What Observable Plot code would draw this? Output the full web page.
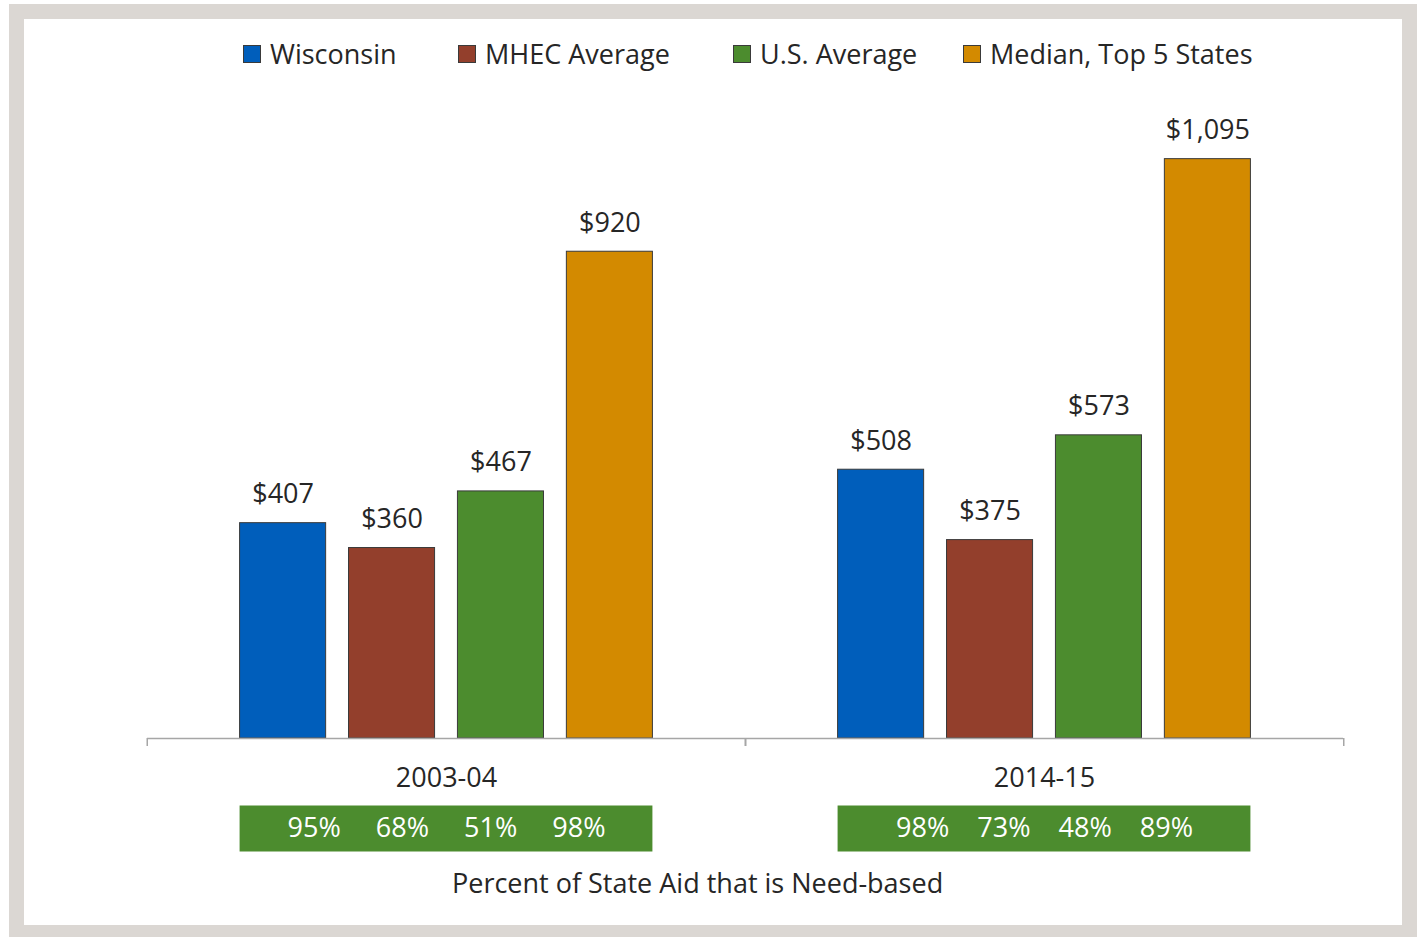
<!DOCTYPE html>
<html>
<head>
<meta charset="utf-8">
<script src="https://cdn.jsdelivr.net/npm/d3@7"></script>
<script src="https://cdn.jsdelivr.net/npm/@observablehq/plot@0.6"></script>
<style>
  html, body { margin: 0; padding: 0; background: #ffffff; }
  body { width: 1425px; height: 937px; position: relative; overflow: hidden; font-family: "Open Sans", sans-serif; color: #262626; }
  #frame { position: absolute; left: 9px; top: 4px; width: 1408px; height: 933px; background: #dbd7d3; }
  #inner { position: absolute; left: 24px; top: 19px; width: 1378px; height: 906px; background: #ffffff; }
  #legend { position: relative; height: 66px; font-size: 27px; }
  .item { position: absolute; top: 16px; height: 38px; line-height: 38px; display: flex; align-items: center; white-space: nowrap; }
  .sw { width: 16px; height: 16px; border: 1px solid #3a3a3a; margin-right: 9px; }
  #chart svg { display: block; }
  #caption { height: 63px; line-height: 42px; font-size: 27px; padding-left: 428px; white-space: nowrap; }
</style>
</head>
<body>
<div id="frame"></div>
<div id="inner">
  <div id="legend"></div>
  <div id="chart"></div>
  <div id="caption">Percent of State Aid that is Need-based</div>
</div>
<script>
// ---- data ----
const years = ["2003-04", "2014-15"];
const series = ["Wisconsin", "MHEC Average", "U.S. Average", "Median, Top 5 States"];
const aid2003 = [407, 360, 467, 920];
const aid2014 = [508, 375, 573, 1095];
const needBased2003 = [95, 68, 51, 98];
const needBased2014 = [98, 73, 48, 89];
const colors = ["#005ebb", "#933f2c", "#4c8c2e", "#d38a00"];

const aidByYear = {"2003-04": aid2003, "2014-15": aid2014};
const needByYear = {"2003-04": needBased2003, "2014-15": needBased2014};
const data = years.flatMap(y => series.map((s, i) => ({year: y, series: s, value: aidByYear[y][i]})));

// ---- legend ----
const legendLeft = [219, 434, 709, 939];
const legend = document.getElementById("legend");
series.forEach((s, i) => {
  const it = document.createElement("div");
  it.className = "item";
  it.style.left = legendLeft[i] + "px";
  const sw = document.createElement("span");
  sw.className = "sw";
  sw.style.background = colors[i];
  const tx = document.createElement("span");
  tx.textContent = s;
  it.append(sw, tx);
  legend.append(it);
});

// ---- chart ----
const W = 1378, H = 777, mL = 122, mR = 59, mT = 71, mB = 124;
const facetW = (W - mL - mR) / years.length;
const sep = {"2003-04": "\u00A0\u00A0\u00A0\u00A0\u00A0", "2014-15": "\u00A0\u00A0\u00A0\u00A0"};
const axisColor = "#a6a6a6";

const marks = [
  Plot.barY(data, {fx: "year", x: "series", y: "value", fill: "series", stroke: "#3a3a3a", strokeWidth: 1}),
  Plot.ruleY([0], {stroke: axisColor, strokeWidth: 1.5}),
  Plot.text(data, {fx: "year", x: "series", y: "value", text: d => "$" + d3.format(",")(d.value),
    lineAnchor: "bottom", dy: -20, fill: "#262626"}),
  Plot.text(years, {fx: d => d, frameAnchor: "bottom", lineAnchor: "middle", dy: 40, text: d => d, fill: "#262626"}),
  Plot.ruleY(years, {fx: d => d, y: () => 0, x1: () => series[0], x2: () => series[series.length - 1],
    dy: 90, stroke: colors[2], strokeWidth: 46}),
  Plot.text(years, {fx: d => d, frameAnchor: "bottom", lineAnchor: "middle", dy: 90,
    text: d => needByYear[d].map(v => v + "%").join(sep[d]), fill: "#ffffff"})
];
if (Plot.axisFx) {
  marks.push(Plot.axisFx({anchor: "bottom", tickSize: 8, tickFormat: () => "", label: null, dx: -facetW / 2, stroke: axisColor, strokeWidth: 1.5}));
  marks.push(Plot.axisFx({anchor: "bottom", tickSize: 8, tickFormat: () => "", label: null, dx: facetW / 2, stroke: axisColor, strokeWidth: 1.5}));
}

const chart = Plot.plot({
  width: W, height: H,
  marginLeft: mL, marginRight: mR, marginTop: mT, marginBottom: mB,
  style: {background: "transparent", fontFamily: "'Open Sans', sans-serif", fontSize: "27px", color: "#262626", overflow: "visible"},
  fx: {domain: years, padding: 0, axis: null, label: null},
  x: {domain: series, paddingInner: 0.21, paddingOuter: 0.85, round: false, axis: null, label: null},
  y: {domain: [0, 1100], axis: null, label: null},
  color: {domain: series, range: colors},
  marks
});
document.getElementById("chart").append(chart);
</script>
</body>
</html>
